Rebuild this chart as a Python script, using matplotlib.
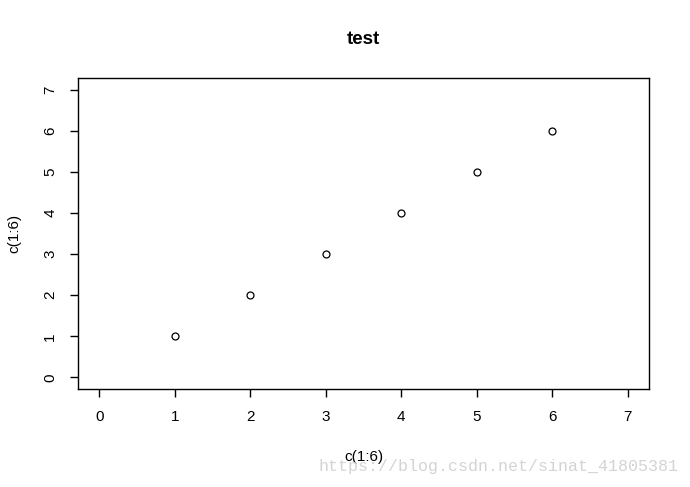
import matplotlib
matplotlib.use("Agg")
import matplotlib.pyplot as plt

x_vals = [1, 2, 3, 4, 5, 6]
y_vals = [1, 2, 3, 4, 5, 6]
ticks = [0, 1, 2, 3, 4, 5, 6, 7]
title = "test"
xlabel = "c(1:6)"
ylabel = "c(1:6)"
watermark = "https://blog.csdn.net/sinat_41805381"

plt.rcParams['font.family'] = ['Liberation Sans', 'DejaVu Sans']

fig = plt.figure(figsize=(6.9, 4.87), dpi=100)
ax = fig.add_axes([78/690, 1-389/487, (649-78)/690, (389-78)/487])
ax.plot(x_vals, y_vals, linestyle='none', marker='o', markersize=5,
        markerfacecolor='white', markeredgecolor='black', markeredgewidth=0.9)
ax.set_xlim(-0.28, 7.28)
ax.set_ylim(-0.28, 7.28)
ax.set_xticks(ticks)
ax.set_yticks(ticks)
ax.tick_params(direction='out', length=6, width=1, labelsize=11, pad=9)
for lab in ax.get_yticklabels():
    lab.set_rotation(90)
    lab.set_va('center')
for s in ax.spines.values():
    s.set_linewidth(1)
fig.text((78+649)/2/690, 1-40/487, title, ha='center', va='center',
         fontsize=13.5, fontweight='bold')
fig.text(364/690, 1-457/487, xlabel, ha='center', va='center', fontsize=11)
fig.text(14/690, 1-233/487, ylabel, ha='center', va='center', fontsize=11, rotation=90)
fig.text(318/690, 1-466/487, watermark, ha='left', va='center', fontsize=12,
         family=['Liberation Mono', 'DejaVu Sans Mono'], color='#d4d4d4')
fig.savefig("out.png", dpi=100)
